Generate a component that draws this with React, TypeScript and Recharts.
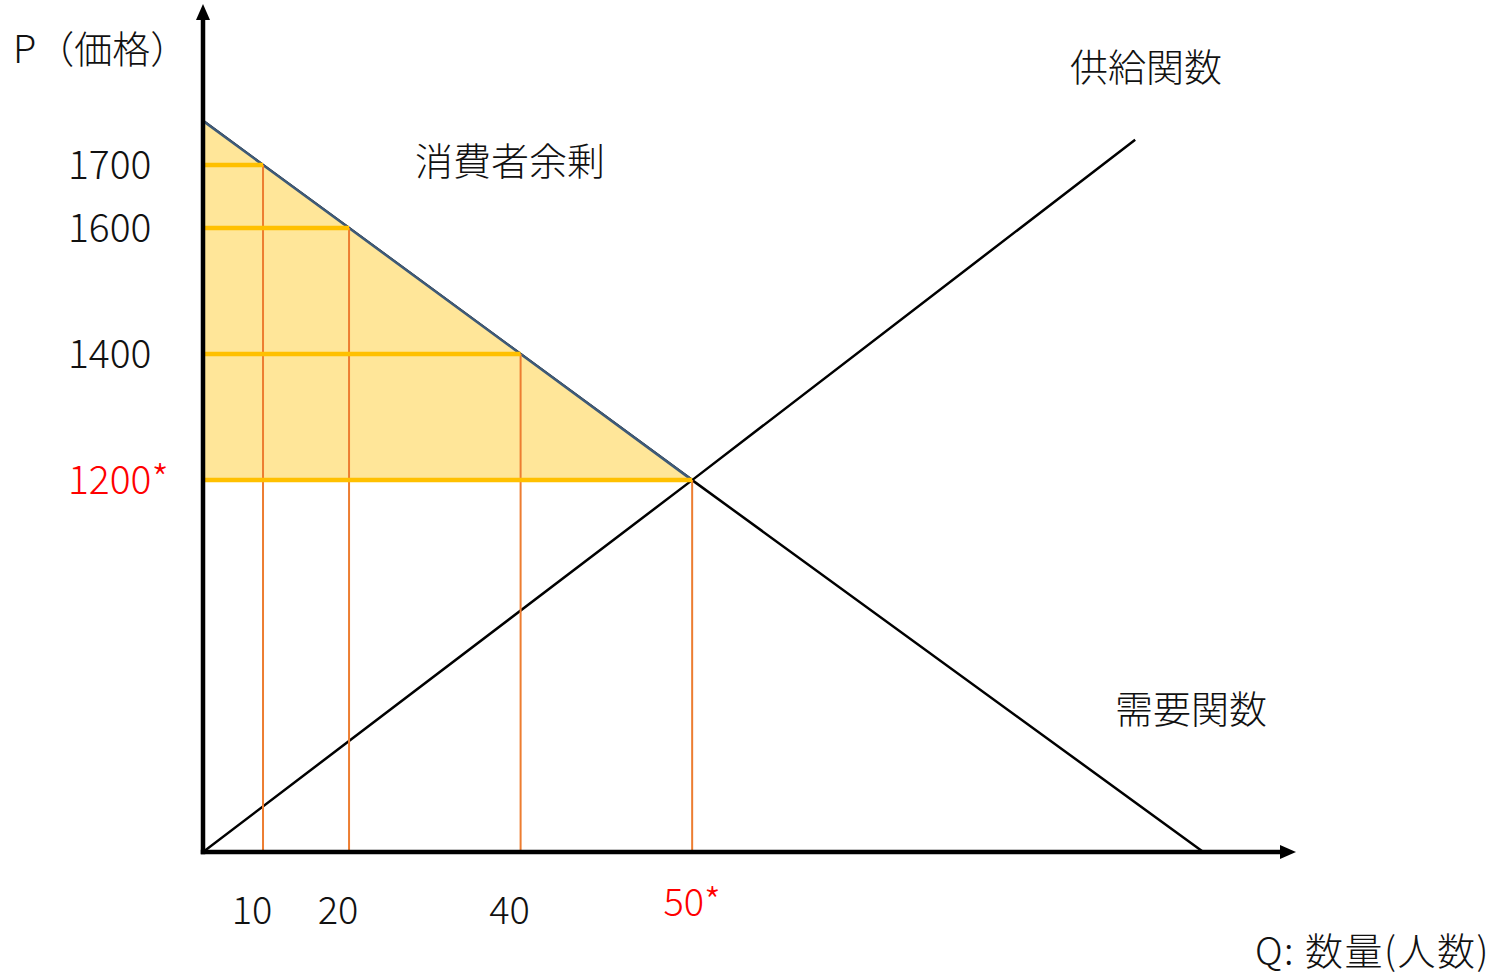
import { ComposedChart, Line, Area, XAxis, YAxis, ReferenceLine } from "recharts"

// demand curve, (quantity, price)
const DEMAND_Q = [0, 10, 20, 40, 50, 80]
const DEMAND_P = [1770, 1700, 1600, 1400, 1200, 610]

// supply curve, (quantity, price)
const SUPPLY_Q = [0, 50, 76]
const SUPPLY_P = [610, 1200, 1740]

// quantities marked on the Q axis and the matching prices on the demand curve
const GUIDE_Q = [10, 20, 40, 50]
const GUIDE_P = [1700, 1600, 1400, 1200]

// equilibrium
const EQ_Q = 50
const EQ_P = 1200

const P_MIN = 610
const P_MAX = 1930
const Q_MAX = 84.5

const INK = "#111"
const RED = "#ff0000"
const FONT = "'Noto Sans CJK JP', 'Noto Sans', sans-serif"
const WEIGHT = 300

const demandData = DEMAND_Q.map((q, i) => ({ q, p: DEMAND_P[i] }))
const supplyData = SUPPLY_Q.map((q, i) => ({ q, p: SUPPLY_P[i] }))
// consumer surplus: between the demand curve and the equilibrium price
const surplusData = DEMAND_Q.filter((q) => q <= EQ_Q).map((q, i) => ({
  q,
  band: [EQ_P, DEMAND_P[i]],
}))

// The quantity axis is schematic: the marked quantities are not evenly
// spaced, so Q is mapped piecewise-linearly between these stops.
const Q_STOPS = [0, 10, 20, 40, 50, 80]
const Q_STOP_POS = [0, 60, 146, 317.5, 489, 1000]

function posOf(q: number) {
  let i = 1
  while (i < Q_STOPS.length - 1 && q > Q_STOPS[i]) i++
  const q0 = Q_STOPS[i - 1]
  const q1 = Q_STOPS[i]
  return Q_STOP_POS[i - 1] + ((q - q0) / (q1 - q0)) * (Q_STOP_POS[i] - Q_STOP_POS[i - 1])
}

function qOf(t: number) {
  let i = 1
  while (i < Q_STOP_POS.length - 1 && t > Q_STOP_POS[i]) i++
  const t0 = Q_STOP_POS[i - 1]
  const t1 = Q_STOP_POS[i]
  return Q_STOPS[i - 1] + ((t - t0) / (t1 - t0)) * (Q_STOPS[i] - Q_STOPS[i - 1])
}

function makeQuantityScale(dom: number[] = [0, 1], rng: number[] = [0, 1]): any {
  let domain = dom.slice()
  let range = rng.slice()
  const ends = () => [posOf(domain[0]), posOf(domain[domain.length - 1])]
  const scale: any = (q: number) => {
    const [a, b] = ends()
    const r0 = range[0]
    const r1 = range[range.length - 1]
    return r0 + ((posOf(Number(q)) - a) / (b - a)) * (r1 - r0)
  }
  scale.domain = (d?: any[]) => {
    if (d === undefined) return domain.slice()
    domain = d.map(Number)
    return scale
  }
  scale.range = (r?: any[]) => {
    if (r === undefined) return range.slice()
    range = r.map(Number)
    return scale
  }
  scale.invert = (px: number) => {
    const [a, b] = ends()
    const r0 = range[0]
    const r1 = range[range.length - 1]
    return qOf(a + ((px - r0) / (r1 - r0)) * (b - a))
  }
  scale.copy = () => makeQuantityScale(domain, range)
  scale.ticks = () => GUIDE_Q.slice()
  scale.tickFormat = () => (v: number) => String(v)
  scale.clamp = () => scale
  scale.nice = () => scale
  return scale
}

const quantityScale = makeQuantityScale([0, Q_MAX])

function QuantityTick({ x, y, payload }: any) {
  const isEq = payload.value === EQ_Q
  return (
    <text
      x={isEq ? x : x - 11}
      y={isEq ? y + 56 : y + 64}
      textAnchor="middle"
      fill={isEq ? RED : INK}
      fontSize={38}
      fontWeight={WEIGHT}
      fontFamily={FONT}
    >
      {isEq ? `${payload.value}*` : payload.value}
    </text>
  )
}

function PriceTick({ x, y, payload }: any) {
  const isEq = payload.value === EQ_P
  return (
    <text
      x={x - 127}
      y={y + 14}
      textAnchor="start"
      fill={isEq ? RED : INK}
      fontSize={39}
      fontWeight={WEIGHT}
      fontFamily={FONT}
    >
      {isEq ? `${payload.value}*` : payload.value}
    </text>
  )
}

const axisShape = (p: any) => (
  <line
    x1={p.x1}
    y1={p.y1}
    x2={p.x2}
    y2={p.y2}
    stroke="#000"
    strokeWidth={4.5}
    strokeLinecap="square"
    markerEnd="url(#axis-arrow)"
  />
)

function Note({ left, top, size, spacing = 0, children }: any) {
  return (
    <div
      style={{
        position: "absolute",
        left,
        top,
        transform: "translateY(-50%)",
        fontFamily: FONT,
        fontSize: size,
        fontWeight: WEIGHT,
        letterSpacing: spacing,
        lineHeight: 1,
        color: INK,
        whiteSpace: "nowrap",
      }}
    >
      {children}
    </div>
  )
}

export default function App() {
  return (
    <div style={{ position: "absolute", left: 0, top: 0, width: 1495, height: 977, background: "#fff" }}>
      <svg width={0} height={0} style={{ position: "absolute" }}>
        <defs>
          <marker
            id="axis-arrow"
            markerUnits="userSpaceOnUse"
            viewBox="0 0 16 14"
            markerWidth={16}
            markerHeight={14}
            refX={0}
            refY={7}
            orient="auto"
          >
            <path d="M0,0 L16,7 L0,14 Z" fill="#000" />
          </marker>
        </defs>
      </svg>

      <ComposedChart width={1495} height={977} margin={{ top: 20, right: 215, bottom: 95, left: 143 }}>
        <XAxis
          type="number"
          dataKey="q"
          domain={[0, Q_MAX]}
          scale={quantityScale}
          allowDataOverflow
          ticks={GUIDE_Q}
          interval={0}
          axisLine={false}
          tickLine={false}
          tick={QuantityTick}
          height={30}
        />
        <YAxis
          type="number"
          domain={[P_MIN, P_MAX]}
          allowDataOverflow
          ticks={GUIDE_P}
          interval={0}
          axisLine={false}
          tickLine={false}
          tick={PriceTick}
          width={60}
        />

        <Line
          data={demandData}
          dataKey="p"
          type="linear"
          stroke="#000"
          strokeWidth={2.5}
          dot={false}
          activeDot={false}
          isAnimationActive={false}
          zIndex={400}
        />
        <Area
          data={surplusData}
          dataKey="band"
          type="linear"
          stroke="#3e5a78"
          strokeWidth={2.5}
          fill="#ffe699"
          fillOpacity={1}
          dot={false}
          activeDot={false}
          isAnimationActive={false}
          zIndex={401}
        />
        <Line
          data={supplyData}
          dataKey="p"
          type="linear"
          stroke="#000"
          strokeWidth={2.5}
          dot={false}
          activeDot={false}
          isAnimationActive={false}
          zIndex={402}
        />

        {GUIDE_Q.map((q, i) => (
          <ReferenceLine
            key={`v${q}`}
            segment={[
              { x: q, y: P_MIN },
              { x: q, y: GUIDE_P[i] },
            ]}
            stroke="#ed7d31"
            strokeWidth={2}
            zIndex={403}
          />
        ))}
        {GUIDE_P.map((p, i) => (
          <ReferenceLine
            key={`h${p}`}
            segment={[
              { x: 0, y: p },
              { x: GUIDE_Q[i], y: p },
            ]}
            stroke="#ffc000"
            strokeWidth={4.5}
            zIndex={404}
          />
        ))}

        <ReferenceLine
          segment={[
            { x: 0, y: P_MIN },
            { x: Q_MAX, y: P_MIN },
          ]}
          shape={axisShape}
          zIndex={405}
        />
        <ReferenceLine
          segment={[
            { x: 0, y: P_MIN },
            { x: 0, y: P_MAX },
          ]}
          shape={axisShape}
          zIndex={405}
        />
      </ComposedChart>

      <Note left={13} top={47} size={38}>P（価格）</Note>
      <Note left={1070} top={65} size={38}>供給関数</Note>
      <Note left={415} top={159} size={38}>消費者余剰</Note>
      <Note left={1115} top={707} size={38}>需要関数</Note>
      <Note left={1255} top={949} size={38} spacing={1.5}>Q: 数量(人数)</Note>
    </div>
  )
}
